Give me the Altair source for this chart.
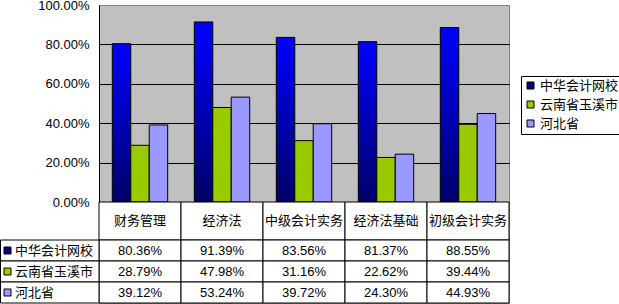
import altair as alt
import pandas as pd

categories = ["财务管理", "经济法", "中级会计实务", "经济法基础", "初级会计实务"]
series = ["中华会计网校", "云南省玉溪市", "河北省"]
s_wangxiao = [80.36, 91.39, 83.56, 81.37, 88.55]
s_yuxi = [28.79, 47.98, 31.16, 22.62, 39.44]
s_hebei = [39.12, 53.24, 39.72, 24.30, 44.93]
series_colors = ["#000080", "#99CC00", "#9999FF"]
y_ticks = [0, 0.2, 0.4, 0.6, 0.8, 1.0]

rows = []
for name, vals in zip(series, [s_wangxiao, s_yuxi, s_hebei]):
    for c, v in zip(categories, vals):
        rows.append({"cat": c, "series": name, "value": v / 100})
df = pd.DataFrame(rows)
hdr = pd.DataFrame({"cat": categories, "row": ["h"] * len(categories)})
lbl = pd.DataFrame({"series": series})

CJK = "Noto Sans CJK SC"
LAT = "Liberation Sans"

xscale = alt.Scale(domain=categories, paddingInner=0, paddingOuter=0)
yscale = alt.Scale(domain=[0, 1], range=[197, 0], nice=False)
hscale = alt.Scale(domain=["h"], range=[197, 235], paddingInner=0, paddingOuter=0)
rscale = alt.Scale(domain=series, range=[235, 298], paddingInner=0, paddingOuter=0)
cscale = alt.Scale(domain=series, range=series_colors)

legend = alt.Legend(
    title=None, orient="none", legendX=422, legendY=71,
    fillColor="white", strokeColor="black", padding=3,
    symbolType="square", symbolSize=49, symbolStrokeColor="black",
    symbolStrokeWidth=1, labelFont=CJK, labelFontSize=13, labelColor="black",
    rowPadding=5, labelOffset=3, labelLimit=200,
)

grad = alt.Gradient(
    gradient="linear",
    stops=[alt.GradientStop(color="#0000FF", offset=0),
           alt.GradientStop(color="#0000CC", offset=0.35),
           alt.GradientStop(color="#000066", offset=1)],
    x1=0, x2=0, y1=0, y2=1,
)

bars = alt.Chart(df).mark_bar(stroke="black", strokeWidth=1).encode(
    x=alt.X("cat:N", scale=xscale, axis=None),
    xOffset=alt.XOffset("series:N", scale=alt.Scale(domain=series, paddingInner=0, paddingOuter=0.72)),
    y=alt.Y("value:Q", scale=yscale, axis=alt.Axis(
        values=y_ticks, format=".2%", title=None, grid=True,
        gridColor={"condition": {"test": "datum.value >= 1", "value": "#808080"}, "value": "black"},
        domainColor="black", ticks=False, labelPadding=10,
        labelFont=LAT, labelFontSize=13, labelColor="black")),
    color=alt.condition(alt.datum.series == series[0], alt.value(grad),
                        alt.Color("series:N", scale=cscale, legend=legend)),
)

hdr_rect = alt.Chart(hdr).mark_rect(fill="white", stroke="black", strokeWidth=1).encode(
    x=alt.X("cat:N", scale=xscale, axis=None),
    y=alt.Y("row:N", scale=hscale, axis=None),
)
hdr_text = alt.Chart(hdr).mark_text(font=CJK, fontSize=13, color="black", baseline="middle").encode(
    x=alt.X("cat:N", scale=xscale, axis=None),
    y=alt.Y("row:N", scale=hscale, axis=None),
    text="cat:N",
)

cell_rect = alt.Chart(df).mark_rect(fill="white", stroke="black", strokeWidth=1).encode(
    x=alt.X("cat:N", scale=xscale, axis=None),
    y=alt.Y("series:N", scale=rscale, axis=None),
)
cell_text = alt.Chart(df).mark_text(font=LAT, fontSize=13, color="black", baseline="middle").encode(
    x=alt.X("cat:N", scale=xscale, axis=None),
    y=alt.Y("series:N", scale=rscale, axis=None),
    text=alt.Text("value:Q", format=".2%"),
)

lbl_rect = alt.Chart(lbl).mark_rect(fill="white", stroke="black", strokeWidth=1).encode(
    x=alt.value(-98.5), x2=alt.value(0),
    y=alt.Y("series:N", scale=rscale, axis=None),
)
lbl_text = alt.Chart(lbl).mark_text(font=CJK, fontSize=13, color="black", align="left", baseline="middle").encode(
    x=alt.value(-84),
    y=alt.Y("series:N", scale=rscale, axis=None),
    text="series:N",
)
lbl_sq = alt.Chart(lbl).mark_square(size=49, stroke="black", strokeWidth=1, opacity=1, filled=True).encode(
    x=alt.value(-91.5),
    y=alt.Y("series:N", scale=rscale, axis=None),
    color=alt.Color("series:N", scale=cscale, legend=legend),
)

chart = alt.layer(
    bars, hdr_rect, hdr_text, cell_rect, cell_text, lbl_rect, lbl_text, lbl_sq
).resolve_scale(y="independent").properties(
    width=410, height=298,
    padding={"left": 99, "top": 5, "right": 110, "bottom": 1},
    autosize=alt.AutoSizeParams(type="none"),
    background="white",
).configure_view(fill="#C0C0C0", stroke="#808080", strokeWidth=1)

chart.save("out.html", embed_options={"renderer": "svg", "actions": False})
